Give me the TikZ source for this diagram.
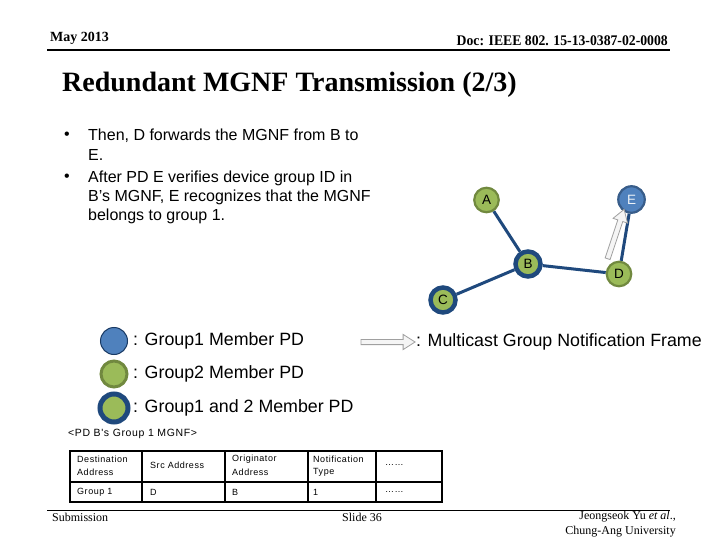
\documentclass[tikz,border=0pt]{standalone}
\usepackage{fontspec}
\setmainfont{Liberation Serif}
\newfontfamily\arial{Liberation Sans}
\newfontfamily\tabfont[LetterSpace=6]{Liberation Sans}
\usetikzlibrary{shapes.arrows,backgrounds}
\definecolor{gfill}{HTML}{9BBB59}
\definecolor{gbord}{HTML}{71893F}
\definecolor{bfill}{HTML}{4F81BD}
\definecolor{bbord}{HTML}{385D8A}
\definecolor{navy}{HTML}{1F497D}
\definecolor{arrgray}{HTML}{A0A0A0}
\tikzset{
  pdg/.style={circle, fill=gfill, draw=gbord, line width=2.2pt, minimum size=24.5pt, inner sep=0pt, font=\arial\fontsize{13.5}{13.5}\selectfont},
  pdb/.style={circle, fill=bfill, draw=bbord, line width=2.2pt, minimum size=26.5pt, inner sep=0pt, text=white!90!bfill, font=\arial\fontsize{13.5}{13.5}\selectfont},
  pdgb/.style={circle, fill=gfill, draw=navy, line width=4.5pt, minimum size=25pt, inner sep=0pt, font=\arial\fontsize{13.5}{13.5}\selectfont},
  link/.style={draw=navy, line width=3pt},
  mgnf/.style={single arrow, draw=arrgray, fill=white!92!gray, line width=0.8pt, inner sep=2.2pt, single arrow head extend=5pt, single arrow tip angle=65, anchor=center},
  txt/.style={anchor=west, inner sep=0pt, font=\arial\fontsize{16}{19}\selectfont},
  lgd/.style={anchor=west, inner sep=0pt, font=\arial\fontsize{17.8}{20}\selectfont},
  tab/.style={anchor=west, inner sep=0pt, font=\tabfont\fontsize{9}{10}\selectfont},
  hdr/.style={inner sep=0pt, font=\bfseries\fontsize{14}{16}\selectfont},
  foot/.style={inner sep=0pt, font=\fontsize{12}{14}\selectfont},
  rule/.style={line width=2.2pt, draw=black},
  tline/.style={line width=1.4pt, draw=black},
}
\begin{document}
\begin{tikzpicture}[x=1pt, y=-1pt]
\useasboundingbox (0,0) rectangle (720,540);
% header
\node[hdr, anchor=west] (date) at (50,38) {May 2013};
\node[hdr, anchor=east] (doc) at (668,41) {\scalebox{0.98}[1.05]{Doc: IEEE 802. 15-13-0387-02-0008}};
\coordinate (hl) at (47,50); \coordinate (hr) at (670,50);
\draw[rule] (hl) -- (hr);
% title
\node[anchor=west, inner sep=0pt, font=\bfseries\fontsize{28}{32}\selectfont] (title) at (62,85) {Redundant MGNF Transmission (2/3)};
% bullets
\node[txt] (b1) at (64,136) {•};
\node[txt] (b2) at (64,178) {•};
\node[txt] (l1) at (88,136) {Then, D forwards the MGNF from B to};
\node[txt] (l2) at (88,155) {E.};
\node[txt] (l3) at (88,178) {After PD E verifies device group ID in};
\node[txt] (l4) at (88,197) {B’s MGNF, E recognizes that the MGNF};
\node[txt] (l5) at (88,216) {belongs to group 1.};
% network
\node[pdg] (A) at (486.5,200) {A};
\node[pdb] (E) at (631.5,199.5) {E};
\node[pdgb] (B) at (528,264) {B};
\node[pdg] (D) at (619,274) {D};
\node[pdgb] (C) at (443,300) {C};
\begin{scope}[on background layer]
\fill[white] (0,0) rectangle (720,540);
\draw[link] (A) -- (B);
\draw[link] (B) -- (C);
\draw[link] (B) -- (D);
\draw[link] (D) -- (E);
\end{scope}
\node[mgnf, minimum height=52pt, rotate=71.5] (fwd) at (615.2,236) {};
% legend
\node[pdb, draw=navy!80!black, line width=1pt, minimum size=27pt] (lg1) at (114,341) {};
\node[lgd] (lt1) at (133,341) {: Group1 Member PD};
\node[pdg, line width=3pt, minimum size=26pt] (lg2) at (114,374) {};
\node[lgd] (lt2) at (133,374) {: Group2 Member PD};
\node[pdgb, line width=5pt, minimum size=28pt] (lg3) at (114,408) {};
\node[lgd] (lt3) at (133,408) {: Group1 and 2 Member PD};
\node[mgnf, minimum height=54pt] (lga) at (386,342) {};
\node[lgd] (lt4) at (416,342) {: Multicast Group Notification Frame};
% frame table
\node[tab, font=\tabfont\fontsize{10.5}{11}\selectfont] (cap) at (68,434) {<PD B's Group 1 MGNF>};
\coordinate (t1) at (70,451); \coordinate (t2) at (442,502);
\draw[tline] (t1) rectangle (t2);
\coordinate (r1) at (70,482); \coordinate (r2) at (442,482);
\draw[tline] (r1) -- (r2);
\foreach \x [count=\i] in {142,225,308,376} {
  \coordinate (ct\i) at (\x,451); \coordinate (cb\i) at (\x,502);
  \draw[tline] (ct\i) -- (cb\i);
}
\node[tab] (h1a) at (77,459) {Destination};
\node[tab] (h1b) at (77,472) {Address};
\node[tab] (h2) at (150,465.5) {Src Address};
\node[tab] (h3a) at (232,459) {Originator};
\node[tab] (h3b) at (232,472) {Address};
\node[tab] (h4a) at (313,459) {Notification};
\node[tab] (h4b) at (313,472) {Type};
\node[tab] (h5) at (385,465.5) {……};
\node[tab] (d1) at (77,492) {Group 1};
\node[tab] (d2) at (150,492) {D};
\node[tab] (d3) at (232,492) {B};
\node[tab] (d4) at (313,492) {1};
\node[tab] (d5) at (385,492) {……};
% footer
\coordinate (fl) at (47,510.5); \coordinate (fr) at (670,510.5);
\draw[line width=1.8pt] (fl) -- (fr);
\node[foot, anchor=west] (sub) at (52,517) {Submission};
\node[foot, anchor=west] (slide) at (342,517) {Slide 36};
\node[foot, anchor=east] (auth) at (676,517) {Jeongseok Yu \textit{et al}.,};
\node[foot, anchor=east] (univ) at (676,532) {Chung-Ang University};
\end{tikzpicture}
\end{document}
